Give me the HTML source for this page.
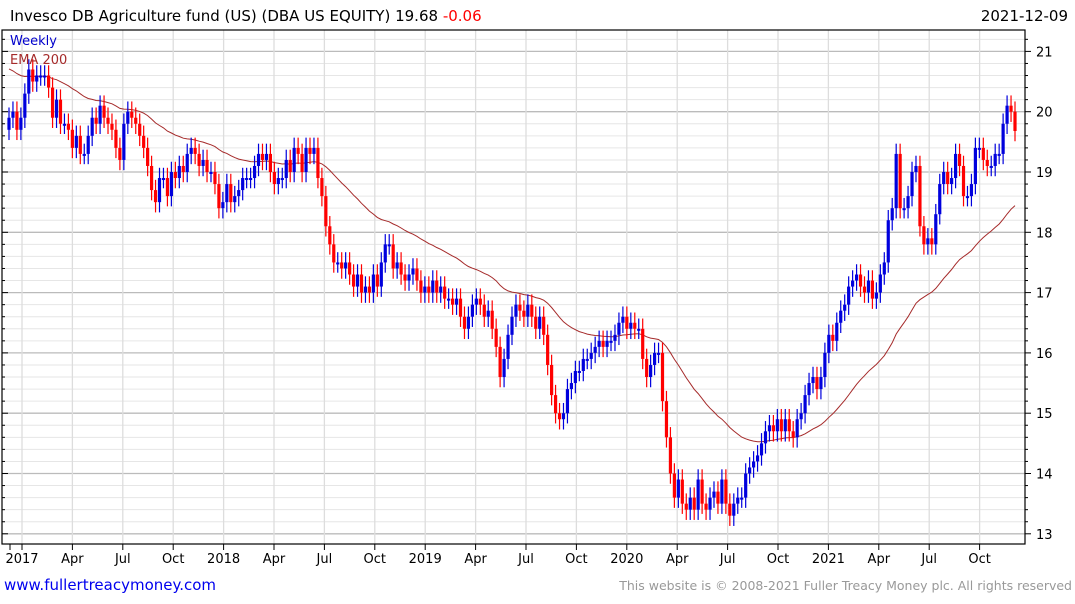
<!DOCTYPE html>
<html><head><meta charset="utf-8"><style>
body{margin:0;background:#fff;width:1075px;height:600px;overflow:hidden;font-family:"DejaVu Sans","Liberation Sans",sans-serif}
svg text{font-family:"DejaVu Sans","Liberation Sans",sans-serif}
</style></head><body>
<svg id="chart" width="1075" height="600" xmlns="http://www.w3.org/2000/svg">
<text x="10" y="21" font-size="15" fill="#000">Invesco DB Agriculture fund (US) (DBA US EQUITY) 19.68 <tspan fill="#f00">-0.06</tspan></text>
<text x="1068" y="21" font-size="15" fill="#000" text-anchor="end">2021-12-09</text>
<g id="grid"></g>
<g id="marks"></g>
<rect x="2" y="30" width="1023" height="514" fill="none" stroke="#000" stroke-width="1.2"/>
<text x="10" y="45" font-size="13" fill="#0000cc">Weekly</text>
<text x="10" y="64" font-size="13" fill="#a52a2a">EMA 200</text>
<g id="axes"></g>
<text x="4" y="590" font-size="15" fill="#0000ee">www.fullertreacymoney.com</text>
<text x="1072" y="590" font-size="12.5" fill="#999" text-anchor="end">This website is © 2008-2021 Fuller Treacy Money plc. All rights reserved</text>
</svg>
<script>
const closes=[19.9,20.0,19.7,19.9,20.3,20.7,20.5,20.6,20.6,20.6,20.4,19.9,20.2,19.8,19.8,19.7,19.4,19.6,19.3,19.3,19.6,19.9,19.8,20.1,19.9,19.8,19.7,19.4,19.2,19.8,20.0,19.9,19.8,19.6,19.4,19.1,18.7,18.5,18.9,18.9,18.6,19.0,18.9,19.1,19.0,19.3,19.4,19.3,19.1,19.2,19.0,19.0,18.8,18.4,18.5,18.8,18.5,18.6,18.7,18.9,18.9,18.9,19.1,19.3,19.2,19.3,19.0,18.8,18.9,18.9,19.2,19.0,19.4,19.3,19.0,19.4,19.3,19.4,18.9,18.6,18.1,17.8,17.5,17.5,17.4,17.5,17.3,17.1,17.3,17.0,17.1,17.0,17.3,17.1,17.5,17.8,17.8,17.4,17.5,17.3,17.2,17.3,17.4,17.2,17.0,17.1,17.0,17.2,17.0,17.1,16.9,16.9,16.8,16.9,16.6,16.4,16.6,16.8,16.9,16.8,16.6,16.7,16.4,16.1,15.6,15.9,16.3,16.6,16.8,16.7,16.6,16.8,16.6,16.4,16.6,16.3,15.8,15.3,15.0,14.9,15.0,15.4,15.5,15.7,15.7,15.9,15.9,16.0,16.1,16.2,16.1,16.2,16.2,16.3,16.5,16.6,16.4,16.5,16.4,16.4,15.9,15.6,15.8,16.0,16.0,15.2,14.6,14.0,13.6,13.9,13.5,13.4,13.6,13.4,13.9,13.5,13.4,13.6,13.7,13.5,13.9,13.5,13.3,13.5,13.6,13.6,14.0,14.1,14.2,14.3,14.5,14.7,14.8,14.7,14.9,14.7,14.9,14.7,14.6,14.9,15.0,15.3,15.5,15.6,15.4,15.6,16.0,16.3,16.2,16.5,16.7,16.8,17.1,17.2,17.3,17.1,17.0,17.2,16.9,17.0,17.3,17.5,18.2,18.4,19.3,18.4,18.4,18.6,19.0,19.1,18.1,17.8,17.9,17.8,18.3,18.8,19.0,18.8,18.9,19.3,19.1,18.6,18.6,18.8,19.4,19.4,19.2,19.1,19.1,19.3,19.3,19.8,20.1,20.0,19.68];
const firstOpen=19.7;
const emaSeed=20.75;
const yTicks=[13,14,15,16,17,18,19,20,21];
const xLabels=["2017","Apr","Jul","Oct","2018","Apr","Jul","Oct","2019","Apr","Jul","Oct","2020","Apr","Jul","Oct","2021","Apr","Jul","Oct"];

const NS="http://www.w3.org/2000/svg";
function el(t,a,p){const e=document.createElementNS(NS,t);for(const k in a)e.setAttribute(k,a[k]);p.appendChild(e);return e;}
const yS=v=>111.7+(20-v)*60.3;
const x0=9,x1=1015;
const xS=i=>x0+i*(x1-x0)/(closes.length-1);
const qX=q=>22+q*50.4;
const grid=document.getElementById('grid'),marks=document.getElementById('marks'),axes=document.getElementById('axes');
for(let v=12.8;v<=21.2;v+=0.2){const y=yS(v);if(y<31||y>543)continue;
 const major=Math.abs(v-Math.round(v))<0.01;
 const l=el('line',{x1:2,x2:1025,y1:y,y2:y,stroke:major?'#bbb':'#e6e6e6','stroke-width':major?1.3:1},grid);
 
 
 el('line',{x1:1025,x2:major?1031:1028,y1:y,y2:y,stroke:'#000'},axes);
 el('line',{x1:2,x2:major?8:5,y1:y,y2:y,stroke:'#000'},axes);}
xLabels.forEach((s,q)=>{const x=qX(q);
 const l=el('line',{x1:x,x2:x,y1:30,y2:544,stroke:'#ddd','stroke-width':1.3},grid);
 
 
 el('line',{x1:x,x2:x,y1:544,y2:550,stroke:'#000'},axes);
 const t=el('text',{x:x,y:563,'font-size':13,'text-anchor':'middle',fill:'#000'},axes);t.textContent=s;
 
 });
el('line',{x1:10,x2:10,y1:544,y2:550,stroke:'#000'},axes);
yTicks.forEach(v=>{const t=el('text',{x:1036,y:yS(v)+5,'font-size':13,fill:'#000'},axes);t.textContent=v;
 
 });
let ema=emaSeed;const a=2/43;let d='';
closes.forEach((c,i)=>{ema=ema+a*(c-ema);d+=(i?'L':'M')+xS(i).toFixed(1)+','+yS(ema).toFixed(1);});
const ep=el('path',{d:d,fill:'none',stroke:'#a52a2a','stroke-width':1},marks);


closes.forEach((c,i)=>{const o=i?closes[i-1]:firstOpen;const up=c>=o;const col=up?'#0000dd':'#ff0000';
 const hi=Math.max(o,c)+0.17,lo=Math.min(o,c)-0.17;const x=xS(i);
 const g=el('g',{},marks);
 
 
 el('line',{x1:x,x2:x,y1:yS(hi),y2:yS(lo),stroke:col,'stroke-width':1.2},g);
 const top=yS(Math.max(o,c)),h=Math.max(2,yS(Math.min(o,c))-top);
 el('rect',{x:x-1.6,y:top,width:3.2,height:h,fill:col},g);});
</script>
</body></html>
